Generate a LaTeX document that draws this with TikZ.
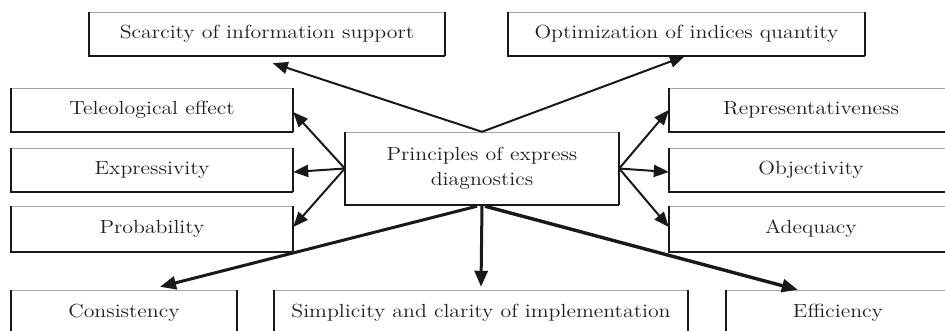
\documentclass[tikz,border=0pt]{standalone}
\usepackage{fontspec}
\newfontfamily\stretchedrm{lmroman12-regular}[Extension=.otf,FakeStretch=1.15]
\usetikzlibrary{arrows.meta}
\tikzset{
  boxtext/.style={inner sep=0pt, align=center, font=\stretchedrm\fontsize{19}{25}\selectfont, text=black!88},
  topline/.style={line width=0.9pt, draw=black!35},
  sideline/.style={line width=1.3pt, draw=black!90},
  rightline/.style={line width=2.2pt, draw=black!90},
  arr/.style={line width=2pt, draw=black!90, -{Triangle[length=15pt,width=12pt]}},
  arrb/.style={line width=3pt, draw=black!90, -{Triangle[length=16pt,width=13pt]}},
}
\newcommand\dbox[6]{%
  \node[boxtext, minimum width={(#4-#2)*1pt}, minimum height={(#5-#3)*1pt}] (#1) at ({(#2+#4)/2},{(#3+#5)/2}) {#6};
  \draw[topline] (#2,#3) -- (#4,#3);
  \draw[sideline] (#2,#3) -- (#2,#5) -- (#4,#5);
  \draw[rightline] (#4,#3) -- (#4,#5);
}
\begin{document}
\begin{tikzpicture}[x=1pt,y=-1pt]
\useasboundingbox (0,0) rectangle (945,331);
\fill[white] (0,0) rectangle (945,331);
\clip (0,0) rectangle (945,331);
\dbox{sc}{89}{12}{445}{56}{Scarcity of information support}
\dbox{op}{508}{12}{865}{56}{Optimization of indices quantity}
\dbox{te}{11}{88}{293}{132}{Teleological effect}
\dbox{ex}{11}{148}{293}{192}{Expressivity}
\dbox{pr}{11}{206}{293}{252}{Probability}
\dbox{re}{669}{88}{953}{132}{Representativeness}
\dbox{ob}{669}{148}{953}{192}{Objectivity}
\dbox{ad}{669}{206}{953}{252}{Adequacy}
\dbox{c}{345}{132}{619}{205}{Principles of express\\diagnostics}
\dbox{co}{11}{290}{237}{336}{Consistency}
\dbox{si}{274}{290}{688}{336}{Simplicity and clarity of implementation}
\dbox{ef}{726}{290}{950}{336}{Efficiency}
% arrows
\draw[arr] (c.north) -- ([xshift=184pt,yshift=-7pt]sc.south west);
\draw[arr] (c.north) -- ([xshift=177pt]op.south west);
\draw[arr] (c.west) -- ([yshift=-2pt]te.east);
\draw[arr] (c.west) -- ([yshift=-2pt]ex.east);
\draw[arr] (c.west) -- ([yshift=2pt]pr.east);
\draw[arr] (c.east) -- (re.west);
\draw[arr] (c.east) -- ([yshift=-2pt]ob.west);
\draw[arr] (c.east) -- ([yshift=2pt]ad.west);
\draw[arrb] ([xshift=-5pt,yshift=-1pt]c.south) -- ([xshift=36pt,yshift=3pt]co.north);
\draw[arrb] (c.south) -- ([yshift=3pt]si.north);
\draw[arrb, line width=3.4pt] ([xshift=3pt,yshift=-1pt]c.south) -- ([xshift=72pt]ef.north west);
\end{tikzpicture}
\end{document}
